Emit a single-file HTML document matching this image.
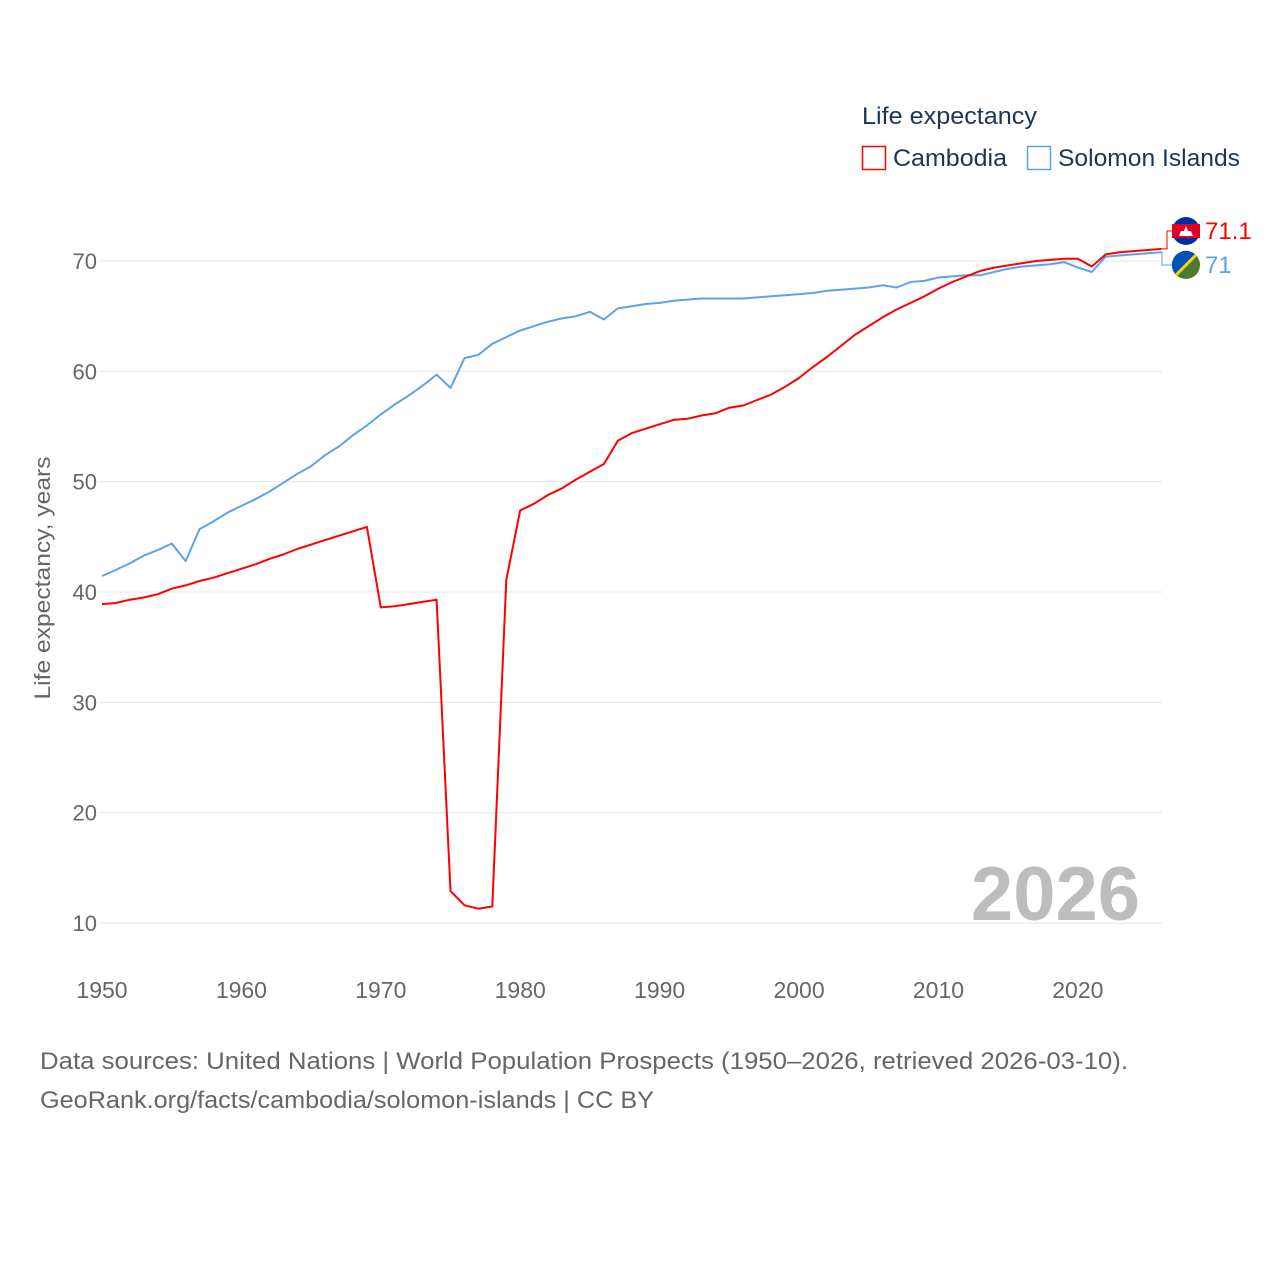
<!DOCTYPE html>
<html><head><meta charset="utf-8">
<style>
html,body{margin:0;padding:0;background:#fff;}
body{width:1280px;height:1280px;overflow:hidden;font-family:"Liberation Sans",sans-serif;}
</style></head>
<body>
<svg width="1280" height="1280" viewBox="0 0 1280 1280" xmlns="http://www.w3.org/2000/svg">
<g id="grid"></g>
<g id="yticks"></g>
<g id="xticks"></g>
<text transform="translate(50,578) rotate(-90)" text-anchor="middle" font-size="22" fill="#666" textLength="243" lengthAdjust="spacingAndGlyphs">Life expectancy, years</text>
<text x="862" y="124" font-size="24" fill="#1d3557" textLength="175" lengthAdjust="spacingAndGlyphs">Life expectancy</text>
<g>
<rect x="862.5" y="146.5" width="23" height="23" fill="none" stroke="#f00" stroke-width="1.5"/>
<text x="893" y="166" font-size="24" fill="#1d3557" textLength="114" lengthAdjust="spacingAndGlyphs">Cambodia</text></g>
<g>
<rect x="1027.5" y="146.5" width="23" height="23" fill="none" stroke="#5ba3ea" stroke-width="1.5"/>
<text x="1058" y="166" font-size="24" fill="#1d3557" textLength="182" lengthAdjust="spacingAndGlyphs">Solomon Islands</text></g>
<text x="1140" y="920" text-anchor="end" font-size="76" font-weight="bold" fill="#bdbdbd">2026</text>
<g id="series"></g>
<g id="labels"></g>
<text x="40" y="1069" font-size="24" fill="#666" textLength="1088" lengthAdjust="spacingAndGlyphs">Data sources: United Nations | World Population Prospects (1950–2026, retrieved 2026-03-10).</text>
<text x="40" y="1108" font-size="24" fill="#666" textLength="614" lengthAdjust="spacingAndGlyphs">GeoRank.org/facts/cambodia/solomon-islands | CC BY</text>
</svg>
<script>
const years = Array.from({length:77},(_,i)=>1950+i);
const cambodia = [38.9,39.0,39.3,39.5,39.8,40.3,40.6,41.0,41.3,41.7,42.1,42.5,43.0,43.4,43.9,44.3,44.7,45.1,45.5,45.9,38.6,38.7,38.9,39.1,39.3,12.9,11.6,11.3,11.5,41.1,47.4,48.0,48.8,49.4,50.2,50.9,51.6,53.7,54.4,54.8,55.2,55.6,55.7,56.0,56.2,56.7,56.9,57.4,57.9,58.6,59.4,60.4,61.3,62.3,63.3,64.1,64.9,65.6,66.2,66.8,67.5,68.1,68.6,69.1,69.4,69.6,69.8,70.0,70.1,70.2,70.2,69.5,70.6,70.8,70.9,71.0,71.1];
const solomon = [41.45,42.0,42.6,43.3,43.8,44.4,42.8,45.7,46.4,47.2,47.8,48.4,49.1,49.9,50.7,51.4,52.4,53.2,54.2,55.1,56.1,57.0,57.8,58.7,59.7,58.5,61.2,61.5,62.5,63.1,63.7,64.1,64.5,64.8,65.0,65.4,64.7,65.7,65.9,66.1,66.2,66.4,66.5,66.6,66.6,66.6,66.6,66.7,66.8,66.9,67.0,67.1,67.3,67.4,67.5,67.6,67.8,67.6,68.1,68.2,68.5,68.6,68.7,68.7,69.0,69.3,69.5,69.6,69.7,69.9,69.4,69.0,70.4,70.5,70.6,70.7,70.8];
const yTicks = [10,20,30,40,50,60,70];
const xTicks = [1950,1960,1970,1980,1990,2000,2010,2020];
const endLabels = ["71.1","71"];
const NS="http://www.w3.org/2000/svg";
const xs = y => 102 + (y-1950)*(1059.5/76);
const ys = v => 923 - (v-10)*(662/60);
function mk(tag, attrs, parent){const e=document.createElementNS(NS,tag);for(const k in attrs)e.setAttribute(k,attrs[k]);parent.appendChild(e);return e;}
const grid=document.getElementById('grid'), yt=document.getElementById('yticks'), xt=document.getElementById('xticks');
yTicks.forEach(t=>{
  const l=mk('line',{x1:100,x2:1162,y1:ys(t),y2:ys(t),stroke:'#e6e6e6','stroke-width':1},grid);
  
  
  const tx=mk('text',{x:97,y:ys(t)+8,'text-anchor':'end','font-size':22,fill:'#666'},yt);
  tx.textContent=t;
  
  
});
xTicks.forEach(t=>{
  const tx=mk('text',{x:xs(t),y:998,'text-anchor':'middle','font-size':23,fill:'#666'},xt);
  tx.textContent=t;
  
  
});
const sg=document.getElementById('series');
function line(vals,color,name){
  const d=vals.map((v,i)=>(i?'L':'M')+xs(years[i]).toFixed(1)+','+ys(v).toFixed(1)).join(' ');
  const p=mk('path',{d:d,fill:'none',stroke:color,'stroke-width':2,'stroke-linejoin':'round'},sg);
  
  
}
line(solomon,'#5ba3ea','line-solomon-islands');
line(cambodia,'#ff0000','line-cambodia');
const lg=document.getElementById('labels');
const ex=xs(2026);
const cy=ys(cambodia[cambodia.length-1]), sy=ys(solomon[solomon.length-1]);
const c1=mk('path',{d:`M${ex},${cy} L1167,${cy} L1167,231 L1172,231`,fill:'none',stroke:'#f00','stroke-width':1},lg);


const c2=mk('path',{d:`M${ex},${sy} L1162,${sy} L1162,265 L1172,265`,fill:'none',stroke:'#5ba3ea','stroke-width':1},lg);


const f1=mk('g',{},lg);


mk('circle',{cx:1186,cy:231,r:14,fill:'#032ea1'},f1);
mk('rect',{x:1172,y:224,width:28,height:14,fill:'#e00025'},f1);
mk('path',{d:'M1179,236 L1193,236 L1191,231 L1188,231 L1186,226 L1184,231 L1181,231 Z',fill:'#fff'},f1);
const f2=mk('g',{},lg);


mk('circle',{cx:1186,cy:265,r:14,fill:'#4a7a2e'},f2);
mk('path',{d:'M1172,265 A14,14 0 0 1 1196,255 L1176,275 A14,14 0 0 1 1172,265 Z',fill:'#0051ba'},f2);
mk('path',{d:'M1196,255 L1176,275',stroke:'#fcd116','stroke-width':3},f2);
const t1=mk('text',{x:1205,y:239,'font-size':24,fill:'#f00'},lg);
t1.textContent=endLabels[0];


const t2=mk('text',{x:1205,y:273,'font-size':24,fill:'#5ba3ea'},lg);
t2.textContent=endLabels[1];


</script>
</body></html>
